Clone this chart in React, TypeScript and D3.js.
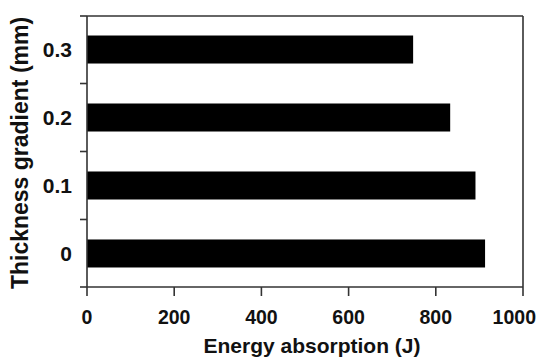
import React from 'react';
import * as d3 from 'd3';

const categories = ['0.3', '0.2', '0.1', '0'];
const energy = [748, 833, 891, 913];
const xTicks = [0, 200, 400, 600, 800, 1000];

const width = 543;
const height = 361;
const margins = {top: 16, right: 20, bottom: 74, left: 87};

const App = () => {
    const xScale = d3.scaleLinear().domain([0, 1000]).range([margins.left, 523]);
    const yScale = d3.scaleBand<string>()
        .domain(categories)
        .range([margins.top, height - margins.bottom])
        .paddingInner(0.588)
        .paddingOuter(0.287);

    const [y0, y1] = yScale.range();
    const centers = categories.map(c => (yScale(c) as number) + yScale.bandwidth() / 2);
    // small ticks on the left axis sit between the categories
    const boundaries = [y0, ...d3.pairs(centers).map(([a, b]) => (a + b) / 2), y1];

    const axisColor = '#333';
    const font = 'Liberation Sans, Arial, sans-serif';

    return (
        <svg width={width} height={height}
             style={{position: 'absolute', left: 0, top: 0, background: '#fff'}}>
            {/* bars */}
            {categories.map((c, i) => (
                <rect key={c} x={xScale(0)} y={yScale(c)} width={xScale(energy[i]) - xScale(0)}
                      height={yScale.bandwidth()} fill="#000"/>
            ))}

            {/* frame */}
            <line x1={xScale(0)} x2={xScale(0)} y1={y0} y2={y1} stroke={axisColor} strokeWidth={1.6}/>
            <line x1={xScale(1000)} x2={xScale(1000)} y1={y0} y2={y1} stroke={axisColor} strokeWidth={1.6}/>
            <line x1={xScale(0)} x2={xScale(1000)} y1={y0} y2={y0} stroke={axisColor} strokeWidth={1.6}/>
            <line x1={xScale(0)} x2={xScale(1000)} y1={y1} y2={y1} stroke={axisColor} strokeWidth={1.6}/>

            {boundaries.map((b, i) => (
                <line key={i} x1={xScale(0) - 7} x2={xScale(0)} y1={b} y2={b} stroke={axisColor} strokeWidth={1.6}/>
            ))}

            {xTicks.map((t, i) => {
                const last = i === xTicks.length - 1;
                return (
                    <g key={t}>
                        <line x1={xScale(t)} x2={xScale(t)} y1={y1} y2={y1 + 9} stroke={axisColor} strokeWidth={1.6}/>
                        <text x={last ? width - 7 : xScale(t)} y={324} textAnchor={last ? 'end' : 'middle'}
                              fontFamily={font} fontWeight="bold" fontSize={19.5} fill="#111">{t}</text>
                    </g>
                );
            })}

            {categories.map((c, i) => (
                <text key={c} x={72} y={centers[i]} dy="0.35em" textAnchor="end" fontFamily={font}
                      fontWeight="bold" fontSize={21} fill="#111">{c}</text>
            ))}

            <text x={312} y={353} textAnchor="middle" fontFamily={font} fontWeight="bold" fontSize={21}
                  fill="#111">Energy absorption (J)</text>
            <text transform={`translate(28, 153) rotate(-90)`} textAnchor="middle" fontFamily={font}
                  fontWeight="bold" fontSize={23} fill="#111">Thickness gradient (mm)</text>
        </svg>
    );
};

export default App;
